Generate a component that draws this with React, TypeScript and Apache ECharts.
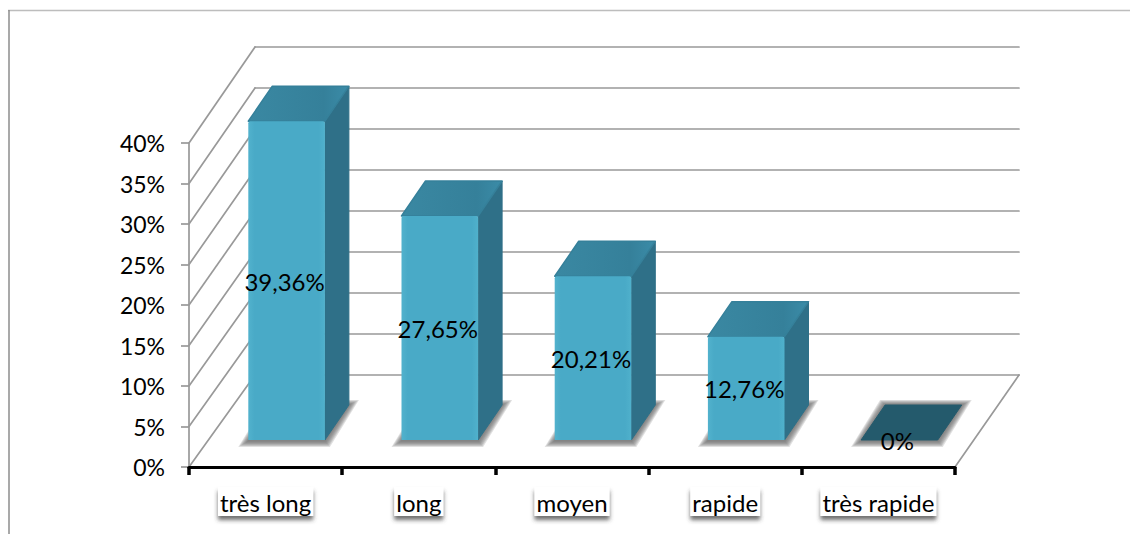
import React, { useEffect, useRef } from "react";
import * as echarts from "echarts";

const categories = ["très long", "long", "moyen", "rapide", "très rapide"];
const shares = [39.36, 27.65, 20.21, 12.76, 0];
const yTicks = [0, 5, 10, 15, 20, 25, 30, 35, 40];

const FONT = "Lato, Carlito, sans-serif";

// Oblique projection of the 3D box: how far the back wall sits from the front plane.
const WALL_DX_LEFT = 66;
const WALL_DX_RIGHT = 64;
const WALL_DY_FLOOR = 92;
const WALL_DY_TOP = 96;
// Where a bar's front face sits on the floor, and the depth of the bar itself.
const BAR_SHIFT_X = 21;
const BAR_SHIFT_Y = 27;
const BAR_DEPTH_X = 24;
const BAR_DEPTH_Y = 35;

const formatShare = (v: number) =>
  v === 0 ? "0%" : v.toFixed(2).replace(".", ",") + "%";

function renderWall(params: any, api: any) {
  const v = api.value(1);
  const cs = params.coordSys;
  const front = api.coord([0, v]);
  const left = cs.x;
  const right = cs.x + cs.width;
  const dy = WALL_DY_FLOOR + ((WALL_DY_TOP - WALL_DY_FLOOR) * v) / 40;
  const line = (x1: number, y1: number, x2: number, y2: number) => ({
    type: "line",
    shape: { x1, y1, x2, y2 },
    style: { stroke: "#999999", lineWidth: 1.7, lineCap: "round" },
  });
  const children: any[] = [
    line(left, front[1], left + WALL_DX_LEFT, front[1] - dy),
    line(left + WALL_DX_LEFT, front[1] - dy, right + WALL_DX_RIGHT, front[1] - dy),
  ];
  if (v === 0) {
    children.push(line(right, front[1], right + WALL_DX_RIGHT, front[1] - dy));
  }
  return { type: "group", children };
}

// Soft floor shadow, built from stacked translucent footprints that grow outwards.
function floorShadow(x0: number, x1: number, yb: number, dx: number, dy: number) {
  const layers: any[] = [];
  for (let grow = 10; grow >= 1; grow -= 1.5) {
    layers.push({
      type: "polygon",
      shape: {
        points: [
          [x0 - grow, yb + 1 + grow * 0.6],
          [x1 + grow * 0.5, yb + 1 + grow * 0.6],
          [x1 + dx + grow, yb - dy - grow * 0.5],
          [x0 + dx - grow * 0.5, yb - dy - grow * 0.5],
        ],
      },
      style: { fill: "rgba(100,100,100,0.2)", lineJoin: "round" },
    });
  }
  return layers;
}

function renderBar(params: any, api: any) {
  const i = api.value(0);
  const v = api.value(1);
  const base = api.coord([i, 0]);
  const head = api.coord([i, v]);
  const width = api.size([1, 0])[0] * 0.5;
  const x0 = base[0] + BAR_SHIFT_X - width / 2;
  const x1 = x0 + width;
  const yb = base[1] - BAR_SHIFT_Y;
  const yt = head[1] - BAR_SHIFT_Y;
  const dx = BAR_DEPTH_X;
  const dy = BAR_DEPTH_Y;

  const children: any[] = floorShadow(x0, x1, yb, dx, dy);

  if (v > 0) {
    children.push(
      {
        type: "polygon",
        shape: {
          points: [
            [x1, yt],
            [x1 + dx, yt - dy],
            [x1 + dx, yb - dy],
            [x1, yb],
          ],
        },
        style: { fill: "#2f7088", stroke: "#2f7088", lineWidth: 1, lineJoin: "round" },
      },
      {
        type: "polygon",
        shape: {
          points: [
            [x0, yt],
            [x0 + dx, yt - dy],
            [x1 + dx, yt - dy],
            [x1, yt],
          ],
        },
        style: {
          fill: {
            type: "linear",
            x: 0,
            y: 0,
            x2: 1,
            y2: 0,
            colorStops: [
              { offset: 0, color: "#3a88a2" },
              { offset: 0.75, color: "#35809a" },
              { offset: 1, color: "#3b8ca8" },
            ],
          },
          stroke: "#35809a",
          lineWidth: 1.5,
          lineJoin: "round",
        },
      },
      {
        type: "rect",
        shape: { x: x0, y: yt, width: x1 - x0, height: yb - yt, r: [2, 2, 0, 0] },
        style: {
          fill: {
            type: "linear",
            x: 0,
            y: 0,
            x2: 1,
            y2: 0,
            colorStops: [
              { offset: 0, color: "#52b2cd" },
              { offset: 0.08, color: "#49aac7" },
              { offset: 0.92, color: "#49aac7" },
              { offset: 1, color: "#50b1cc" },
            ],
          },
        },
      }
    );
  } else {
    // A zero-height bar collapses to its dark footprint on the floor.
    children.push({
      type: "polygon",
      shape: {
        points: [
          [x0, yb],
          [x1, yb],
          [x1 + dx, yb - dy],
          [x0 + dx, yb - dy],
        ],
      },
      style: { fill: "#245a6c", stroke: "#245a6c", lineWidth: 1, lineJoin: "round" },
    });
  }

  children.push({
    type: "text",
    z2: 50,
    style: {
      text: formatShare(v),
      x: (x0 + x1) / 2 - 2,
      y: v > 0 ? (yt + yb) / 2 + 0.5 : yb,
      align: "center",
      verticalAlign: "middle",
      font: `24px ${FONT}`,
      fill: "#000",
    },
  });
  return { type: "group", children };
}

export default function App() {
  const ref = useRef<HTMLDivElement>(null);

  useEffect(() => {
    document.body.style.margin = "0";
    const chart = echarts.init(ref.current!, undefined, { renderer: "svg" });
    chart.setOption({
      animation: false,
      backgroundColor: "#fff",
      textStyle: { fontFamily: FONT },
      grid: { left: 189, right: 175, top: 143, bottom: 67 },
      graphic: [
        {
          type: "line",
          silent: true,
          shape: { x1: 8, y1: 10.5, x2: 1130, y2: 10.5 },
          style: { stroke: "#bdbdbd", lineWidth: 1.5 },
        },
        {
          type: "line",
          silent: true,
          shape: { x1: 9, y1: 10, x2: 9, y2: 534 },
          style: { stroke: "#8c8c8c", lineWidth: 1.5 },
        },
      ],
      xAxis: {
        type: "category",
        data: categories,
        boundaryGap: true,
        z: 5,
        axisLine: { lineStyle: { color: "#000", width: 3 } },
        axisTick: {
          show: true,
          alignWithLabel: false,
          length: 8,
          lineStyle: { color: "#000", width: 3.5 },
        },
        axisLabel: {
          interval: 0,
          margin: 20,
          color: "#000",
          fontFamily: FONT,
          fontSize: 24,
          backgroundColor: "#fff",
          padding: [3, 2, 2, 2],
          shadowColor: "rgba(60,60,60,0.75)",
          shadowBlur: 4,
          shadowOffsetY: 4,
          textShadowColor: "transparent",
          textShadowBlur: 0,
        },
      },
      yAxis: {
        type: "value",
        min: 0,
        max: 40,
        interval: 5,
        splitLine: { show: false },
        axisLine: { show: true, lineStyle: { color: "#999999", width: 1.7 } },
        axisTick: { show: true, length: 8, lineStyle: { color: "#999999", width: 1.7 } },
        axisLabel: {
          margin: 24,
          color: "#000",
          fontFamily: FONT,
          fontSize: 23,
          formatter: (v: number) => `${v}%`,
        },
      },
      series: [
        {
          type: "custom",
          silent: true,
          z: 1,
          data: yTicks.map((v) => [0, v]),
          renderItem: renderWall,
        },
        {
          type: "custom",
          silent: true,
          z: 2,
          data: shares.map((v, i) => [i, v]),
          renderItem: renderBar,
        },
      ],
    });
    return () => chart.dispose();
  }, []);

  return <div ref={ref} style={{ width: 1130, height: 534 }} />;
}
